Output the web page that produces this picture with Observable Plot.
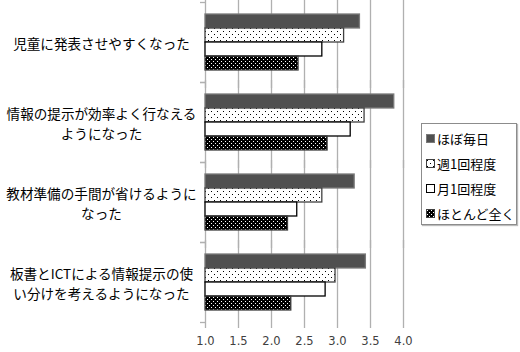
<!DOCTYPE html>
<html><head><meta charset="utf-8">
<script src="https://cdn.jsdelivr.net/npm/d3@7"></script>
<script src="https://cdn.jsdelivr.net/npm/@observablehq/plot@0.6"></script>
<style>
body{margin:0;background:#fff;}
#wrap{position:relative;width:520px;height:352px;font-family:"Noto Sans CJK JP",sans-serif;}
#defs{position:absolute;left:0;top:0;width:0;height:0;}
#legend{position:absolute;left:421px;top:123px;width:96px;height:102px;border:1px solid #8c8c8c;box-sizing:border-box;background:#fff;box-shadow:1px 1px 1px #bbb;padding-top:2px;}
#legend .item{display:flex;align-items:center;height:25px;font-size:13px;color:#000;padding-left:4px;white-space:nowrap;}
#legend svg{margin-right:2px;}
</style></head>
<body><div id="wrap">
<svg id="defs" width="0" height="0">
  <defs>
    <pattern id="p0" width="4" height="4" patternUnits="userSpaceOnUse"><rect width="4" height="4" fill="#505050"/></pattern>
    <pattern id="p1" width="6" height="6" patternUnits="userSpaceOnUse"><rect width="6" height="6" fill="#fff"/><rect x="1" y="1" width="1" height="1" fill="#000"/><rect x="4" y="4" width="1" height="1" fill="#000"/></pattern>
    <pattern id="p2" width="4" height="4" patternUnits="userSpaceOnUse"><rect width="4" height="4" fill="#fff"/></pattern>
    <pattern id="p3" width="4" height="4" patternUnits="userSpaceOnUse"><rect width="4" height="4" fill="#000"/><rect x="1" y="1" width="1" height="1" fill="#fff"/><rect x="3" y="3" width="1" height="1" fill="#fff"/></pattern>
  </defs>
</svg>
</div>
<script>
const categories = ["児童に発表させやすくなった","情報の提示が効率よく行なえるようになった","教材準備の手間が省けるようになった","板書とICTによる情報提示の使い分けを考えるようになった"];
const categoryLabels = ["児童に発表させやすくなった","情報の提示が効率よく行なえる\nようになった","教材準備の手間が省けるように\nなった","板書とICTによる情報提示の使\nい分けを考えるようになった"];
const series = ["ほぼ毎日","週1回程度","月1回程度","ほとんど全く"];
const daily   = [3.34, 3.86, 3.26, 3.43];
const weekly  = [3.10, 3.41, 2.77, 2.97];
const monthly = [2.77, 3.20, 2.39, 2.82];
const never   = [2.41, 2.85, 2.25, 2.30];
const xTicks = [1.0, 1.5, 2.0, 2.5, 3.0, 3.5, 4.0];
const xDomain = [1, 4];

const seriesValues = [daily, weekly, monthly, never];
const seriesFill = ["url(#p0)", "url(#p1)", "url(#p2)", "url(#p3)"];
const seriesStroke = ["#7a7a7a", "#404040", "#000", "#404040"];

const barMarks = series.map((s, k) => Plot.barX(
  categories.map((c, i) => ({category: c, series: s, value: seriesValues[k][i]})),
  {fy: "category", y: "series", x1: xDomain[0], x2: "value", fill: seriesFill[k], stroke: seriesStroke[k], strokeWidth: 1.3}
));

const labelData = categories.map((c, i) => ({category: c, label: categoryLabels[i]}));

const chart = Plot.plot({
  width: 520, height: 352,
  marginLeft: 205, marginRight: 117, marginTop: 2, marginBottom: 30,
  style: {fontFamily: "'Noto Sans CJK JP', sans-serif", background: "#fff"},
  x: {domain: xDomain, axis: null},
  y: {domain: series, paddingInner: 0, paddingOuter: 0.667, axis: null},
  fy: {domain: categories, padding: 0, axis: null},
  marks: [
    Plot.ruleX(xTicks, {stroke: "#b0b0b0", strokeWidth: 1.3, insetTop: -2, insetBottom: -6}),
    Plot.axisFy({anchor: "left", tickSize: 5, tickFormat: () => "", label: null, dy: -40, stroke: "#b0b0b0", strokeWidth: 1.3}),
    Plot.axisFy({anchor: "left", tickSize: 5, tickFormat: () => "", label: null, dy: 40, stroke: "#b0b0b0", strokeWidth: 1.3}),
    Plot.axisX({ticks: xTicks, tickFormat: d3.format(".1f"), tickSize: 0, tickPadding: 14, label: null, fill: "#404040", fontSize: 11.5, fontFamily: "'DejaVu Sans', sans-serif"}),
    ...barMarks,
    Plot.text(labelData, {fy: "category", text: "label", frameAnchor: "left", dx: -104, textAnchor: "middle", fontSize: 13.6, lineHeight: 1.47, fill: "#000"})
  ]
});
document.getElementById("wrap").appendChild(chart);

const legend = document.createElement("div");
legend.id = "legend";
series.forEach((s, k) => {
  const item = document.createElement("div");
  item.className = "item";
  item.innerHTML = `<svg width="9" height="9"><rect x="0.5" y="0.5" width="8" height="8" fill="${seriesFill[k]}" stroke="${seriesStroke[k]}" stroke-width="1"/></svg><span>${s}</span>`;
  legend.appendChild(item);
});
document.getElementById("wrap").appendChild(legend);
</script>
</body></html>
